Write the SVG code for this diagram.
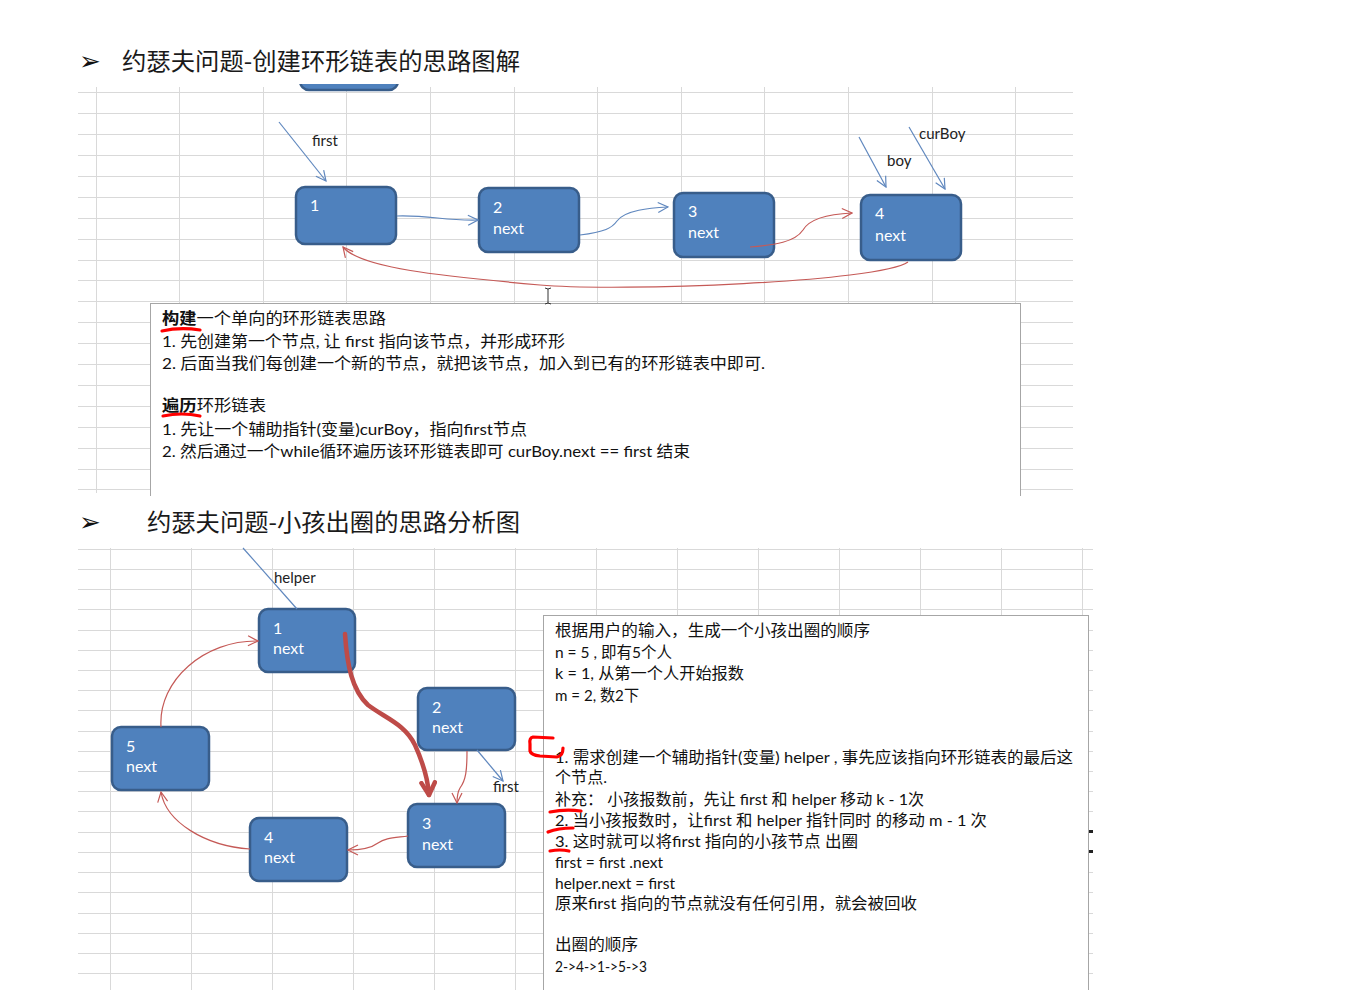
<svg xmlns="http://www.w3.org/2000/svg" width="1353" height="990" viewBox="0 0 1353 990">
<style>
.grid{stroke:#D9D9D9;stroke-width:1;fill:none;shape-rendering:crispEdges}
.box{fill:#FFFFFF;stroke:#A6A6A6;stroke-width:1;shape-rendering:crispEdges}
.node{fill:#4F81BD;stroke:#385D8A;stroke-width:2.5}
.nt{font-family:Lato,"Liberation Sans","Noto Sans CJK SC",sans-serif;font-size:16px;fill:#FFFFFF}
.title{font-family:"Noto Sans CJK SC",sans-serif;font-size:24px;font-weight:400;fill:#1A1A1A}
.bullet{font-family:"DejaVu Sans",sans-serif;font-size:26px;fill:#111111}
.lbl{font-family:Lato,"Liberation Sans",sans-serif;font-size:15px;fill:#222222}
.tx{font-family:Lato,"Noto Sans CJK SC",sans-serif;font-size:16px;fill:#111111}
.b{font-weight:bold}
.blue{fill:none;stroke:#5F87BE;stroke-width:1.2}
.red{fill:none;stroke:#C55A57;stroke-width:1.2}
.thick{fill:none;stroke:#BE4B48;stroke-width:4.5;stroke-linecap:round}
.mark{fill:none;stroke:#FF0000;stroke-width:3.2;stroke-linecap:round;stroke-linejoin:round}
</style>
<defs>
<marker id="ab" viewBox="0 0 12 12" refX="11" refY="6" markerWidth="12" markerHeight="12" markerUnits="userSpaceOnUse" orient="auto">
<path d="M1,1 L11,6 L1,11" fill="none" stroke="#5F87BE" stroke-width="1.2"/>
</marker>
<marker id="ar" viewBox="0 0 12 12" refX="11" refY="6" markerWidth="12" markerHeight="12" markerUnits="userSpaceOnUse" orient="auto">
<path d="M1,1 L11,6 L1,11" fill="none" stroke="#C55A57" stroke-width="1.2"/>
</marker>
<marker id="at" viewBox="0 0 16 16" refX="13" refY="8" markerWidth="18" markerHeight="18" markerUnits="userSpaceOnUse" orient="auto">
<path d="M2,2 L13,8 L2,14" fill="none" stroke="#BE4B48" stroke-width="4" stroke-linecap="round" stroke-linejoin="round"/>
</marker>
<clipPath id="cut"><rect x="280" y="84" width="140" height="20"/></clipPath>
</defs>
<rect width="1353" height="990" fill="#FFFFFF"/>

<!-- titles -->
<text class="bullet" x="79" y="70">➢</text>
<text class="title" x="122" y="70" textLength="398" lengthAdjust="spacingAndGlyphs">约瑟夫问题-创建环形链表的思路图解</text>
<text class="bullet" x="79" y="531">➢</text>
<text class="title" x="147" y="531" textLength="373" lengthAdjust="spacingAndGlyphs">约瑟夫问题-小孩出圈的思路分析图</text>

<!-- top grid -->
<path class="grid" d="M78 92.5H1073M78 113.5H1073M78 134.5H1073M78 155.5H1073M78 176.5H1073M78 197.5H1073M78 218.5H1073M78 239.5H1073M78 260.5H1073M78 280.5H1073M78 301.5H1073M78 322.5H1073M78 343.5H1073M78 364.5H1073M78 385.5H1073M78 406.5H1073M78 427.5H1073M78 448.5H1073M78 469.5H1073M78 489.5H1073"/>
<path class="grid" d="M96.5 87V493M179.5 87V493M263.5 87V493M346.5 87V493M430.5 87V493M514.5 87V493M597.5 87V493M681.5 87V493M764.5 87V493M848.5 87V493M932.5 87V493M1015.5 87V493"/>

<!-- bottom grid -->
<path class="grid" d="M78 549.5H1093M78 569.5H1093M78 589.5H1093M78 609.5H1093M78 630.5H1093M78 650.5H1093M78 670.5H1093M78 690.5H1093M78 710.5H1093M78 731.5H1093M78 751.5H1093M78 771.5H1093M78 791.5H1093M78 811.5H1093M78 832.5H1093M78 852.5H1093M78 872.5H1093M78 892.5H1093M78 913.5H1093M78 933.5H1093M78 953.5H1093M78 973.5H1093"/>
<path class="grid" d="M110.5 548V990M191.5 548V990M272.5 548V990M353.5 548V990M434.5 548V990M515.5 548V990M596.5 548V990M677.5 548V990M758.5 548V990M839.5 548V990M920.5 548V990M1001.5 548V990M1082.5 548V990"/>

<!-- partial node at top -->
<g id="node-top-partial" clip-path="url(#cut)">
<rect class="node" x="300" y="50" width="98" height="40" rx="9"/>
</g>

<!-- top text box -->
<g id="note-top">
<rect x="150.5" y="303.5" width="870" height="200" fill="#FFFFFF"/>
<path class="box" d="M150.5 496V303.5H1020.5V496"/>
<text class="tx" x="162" y="324" textLength="224" lengthAdjust="spacingAndGlyphs"><tspan class="b">构建</tspan>一个单向的环形链表思路</text>
<text class="tx" x="162" y="347" textLength="403" lengthAdjust="spacingAndGlyphs">1. 先创建第一个节点, 让 first 指向该节点，并形成环形</text>
<text class="tx" x="162" y="369" textLength="603" lengthAdjust="spacingAndGlyphs">2. 后面当我们每创建一个新的节点，就把该节点，加入到已有的环形链表中即可.</text>
<text class="tx" x="162" y="411" textLength="104" lengthAdjust="spacingAndGlyphs"><tspan class="b">遍历</tspan>环形链表</text>
<text class="tx" x="162" y="435" textLength="365" lengthAdjust="spacingAndGlyphs">1. 先让一个辅助指针(变量)curBoy，指向first节点</text>
<text class="tx" x="162" y="457" textLength="528" lengthAdjust="spacingAndGlyphs">2. 然后通过一个while循环遍历该环形链表即可 curBoy.next == first 结束</text>
<path class="mark" d="M162 331 Q180 327 200 330"/>
<path class="mark" d="M163 416 Q182 412 200 416"/>
</g>

<!-- bottom text box -->
<g id="note-bottom">
<rect x="543.5" y="615.5" width="545" height="380" fill="#FFFFFF"/>
<path class="box" d="M543.5 991V615.5H1088.5V991"/>
<text class="tx" x="555" y="636" textLength="315" lengthAdjust="spacingAndGlyphs">根据用户的输入，生成一个小孩出圈的顺序</text>
<text class="tx" x="555" y="658" textLength="117" lengthAdjust="spacingAndGlyphs">n = 5 , 即有5个人</text>
<text class="tx" x="555" y="679" textLength="189" lengthAdjust="spacingAndGlyphs">k = 1, 从第一个人开始报数</text>
<text class="tx" x="555" y="701" textLength="84" lengthAdjust="spacingAndGlyphs">m = 2, 数2下</text>
<text class="tx" x="555" y="763" textLength="518" lengthAdjust="spacingAndGlyphs">1. 需求创建一个辅助指针(变量) helper , 事先应该指向环形链表的最后这</text>
<text class="tx" x="555" y="783" textLength="52" lengthAdjust="spacingAndGlyphs">个节点.</text>
<text class="tx" x="555" y="805" textLength="369" lengthAdjust="spacingAndGlyphs">补充： 小孩报数前，先让 first 和 helper 移动 k - 1次</text>
<text class="tx" x="555" y="826" textLength="432" lengthAdjust="spacingAndGlyphs">2. 当小孩报数时，让first 和 helper 指针同时 的移动 m - 1 次</text>
<text class="tx" x="555" y="847" textLength="303" lengthAdjust="spacingAndGlyphs">3. 这时就可以将first 指向的小孩节点 出圈</text>
<text class="tx" x="555" y="868" textLength="108" lengthAdjust="spacingAndGlyphs">first = first .next</text>
<text class="tx" x="555" y="889" textLength="120" lengthAdjust="spacingAndGlyphs">helper.next = first</text>
<text class="tx" x="555" y="909" textLength="362" lengthAdjust="spacingAndGlyphs">原来first 指向的节点就没有任何引用，就会被回收</text>
<text class="tx" x="555" y="950" textLength="83" lengthAdjust="spacingAndGlyphs">出圈的顺序</text>
<text class="tx" x="555" y="972" textLength="92" lengthAdjust="spacingAndGlyphs">2-&gt;4-&gt;1-&gt;5-&gt;3</text>
<path class="mark" d="M553 738 L533 737 Q529 738 530 744 L530 751 Q531 755 540 756 L557 757 Q563 756 563 748"/>
<path class="mark" d="M550 812 Q565 809 581 811"/>
<path class="mark" d="M548 832 Q558 828 573 828"/>
<path class="mark" d="M550 851 Q560 849 569 851"/>
<rect x="1089" y="830" width="4" height="3" fill="#222222"/>
<rect x="1089" y="850" width="4" height="3" fill="#222222"/>
</g>

<!-- top nodes -->
<g id="t1"><rect class="node" x="296" y="187" width="100" height="57" rx="9"/><text class="nt" x="310" y="211">1</text></g>
<g id="t2"><rect class="node" x="479" y="188" width="100" height="64" rx="9"/><text class="nt" x="493" y="213">2</text><text class="nt" x="493" y="234">next</text></g>
<g id="t3"><rect class="node" x="674" y="193" width="100" height="64" rx="9"/><text class="nt" x="688" y="217">3</text><text class="nt" x="688" y="238">next</text></g>
<g id="t4"><rect class="node" x="861" y="195" width="100" height="65" rx="9"/><text class="nt" x="875" y="219">4</text><text class="nt" x="875" y="241">next</text></g>

<!-- bottom nodes -->
<g id="b1"><rect class="node" x="259" y="609" width="96" height="63" rx="9"/><text class="nt" x="273" y="634">1</text><text class="nt" x="273" y="654">next</text></g>
<g id="b2"><rect class="node" x="418" y="688" width="97" height="62" rx="9"/><text class="nt" x="432" y="713">2</text><text class="nt" x="432" y="733">next</text></g>
<g id="b3"><rect class="node" x="408" y="804" width="97" height="63" rx="9"/><text class="nt" x="422" y="829">3</text><text class="nt" x="422" y="850">next</text></g>
<g id="b4"><rect class="node" x="250" y="818" width="97" height="63" rx="9"/><text class="nt" x="264" y="843">4</text><text class="nt" x="264" y="863">next</text></g>
<g id="b5"><rect class="node" x="112" y="727" width="97" height="63" rx="9"/><text class="nt" x="126" y="752">5</text><text class="nt" x="126" y="772">next</text></g>

<!-- connectors -->
<g id="connectors">
<path class="blue" d="M279 122 L326 181" marker-end="url(#ab)"/>
<path class="blue" d="M397 216 C430 215 445 221 478 220" marker-end="url(#ab)"/>
<path class="blue" d="M580 235 C605 232 612 228 617 221 C625 210 650 208 668 207" marker-end="url(#ab)"/>
<path class="red" d="M750 247 C775 245 795 242 803 230 C810 218 830 214 852 213" marker-end="url(#ar)"/>
<path class="red" d="M908 262 C880 282 620 292 540 285 C440 276 360 268 343 247" marker-end="url(#ar)"/>
<path class="blue" d="M859 137 L886 187" marker-end="url(#ab)"/>
<path class="blue" d="M909 127 L945 189" marker-end="url(#ab)"/>

<path class="blue" d="M243 548 L297 609"/>
<path class="red" d="M161 727 C158 680 205 640 258 641" marker-end="url(#ar)"/>
<path class="red" d="M250 849 C205 846 166 822 161 792" marker-end="url(#ar)"/>
<path class="red" d="M408 836 C393 838 385 838 378 843 C370 849 360 850 348 850" marker-end="url(#ar)"/>
<path class="red" d="M467 751 C467 770 466 780 460 788 C457 793 457 798 457 803" marker-end="url(#ar)"/>
<path class="blue" d="M477 750 L503 781" marker-end="url(#ab)"/>
<path class="thick" d="M345 634 C347 665 352 690 368 705 C385 718 405 724 415 745 C424 765 428 780 429 795" marker-end="url(#at)"/>
</g>

<!-- pointer labels -->
<g id="labels">
<text class="lbl" x="312" y="146">first</text>
<text class="lbl" x="887" y="166">boy</text>
<text class="lbl" x="919" y="139">curBoy</text>
<text class="lbl" x="274" y="583">helper</text>
<text class="lbl" x="493" y="792">first</text>
</g>

<!-- text cursor -->
<path d="M545 288 L548 289 L551 288 M548 289 L548 303 M545 304 L548 303 L551 304" fill="none" stroke="#333333" stroke-width="1"/>
</svg>
